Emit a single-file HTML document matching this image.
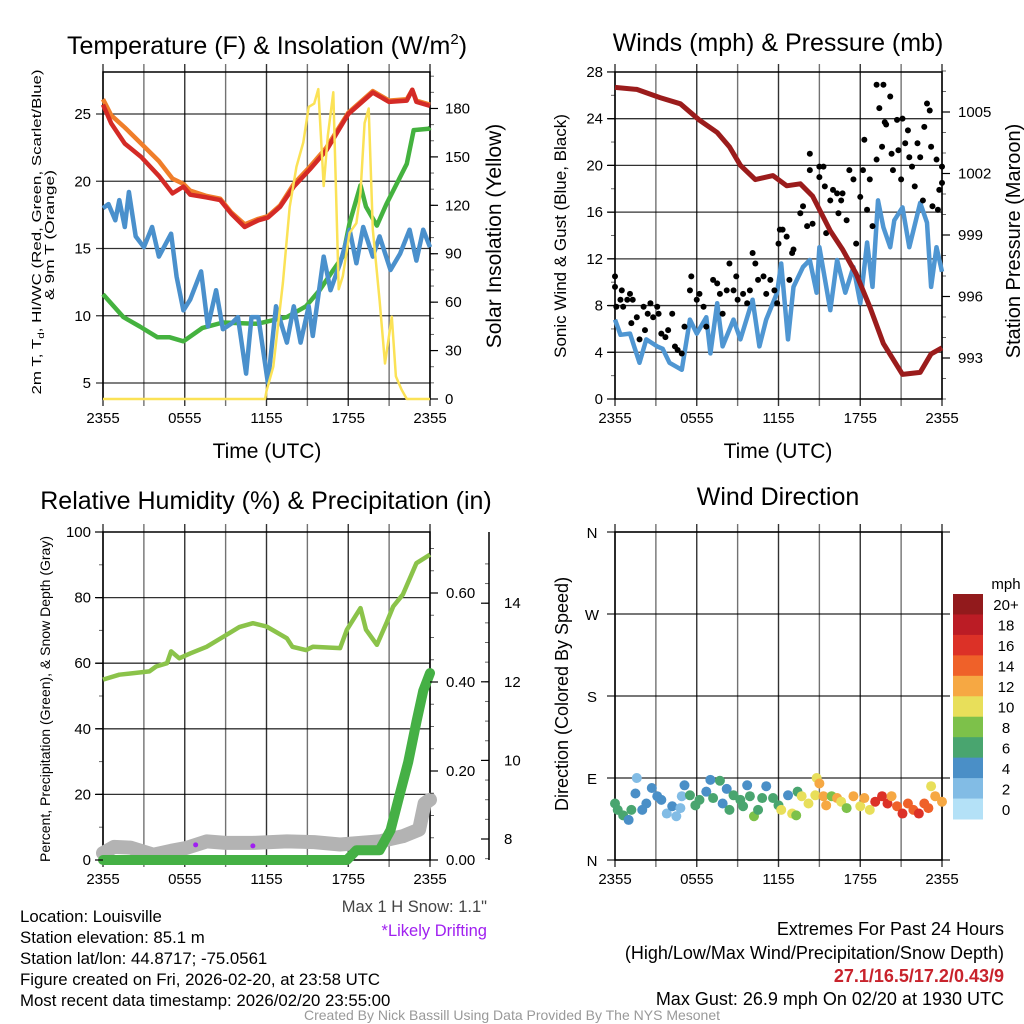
<!DOCTYPE html>
<html><head><meta charset="utf-8">
<style>
html,body{margin:0;padding:0;background:#fff;}
svg{display:block;font-family:"Liberation Sans",Arial,sans-serif;}
</style></head>
<body>
<svg id="chart" width="1024" height="1024" viewBox="0 0 1024 1024" xmlns="http://www.w3.org/2000/svg">
<rect width="1024" height="1024" fill="#fff"/>
<g id="grids"></g>
<g id="marks"></g>
<g id="axes"></g>
<g id="texts" font-family="Liberation Sans, Arial, sans-serif">
  <text x="267" y="54" font-size="25" text-anchor="middle">Temperature (F) &amp; Insolation (W/m<tspan font-size="15" dy="-10">2</tspan><tspan dy="10">)</tspan></text>
  <text x="778" y="51" font-size="25" text-anchor="middle">Winds (mph) &amp; Pressure (mb)</text>
  <text x="266" y="509" font-size="25" text-anchor="middle">Relative Humidity (%) &amp; Precipitation (in)</text>
  <text x="778" y="505" font-size="25" text-anchor="middle">Wind Direction</text>

  <text x="267" y="458" font-size="21" text-anchor="middle">Time (UTC)</text>
  <text x="778" y="458" font-size="21" text-anchor="middle">Time (UTC)</text>

  <text transform="translate(41,232) rotate(-90)" font-size="13" text-anchor="middle" textLength="325" lengthAdjust="spacingAndGlyphs">2m T, T<tspan font-size="9" dy="3">d</tspan><tspan dy="-3">, HI/WC (Red, Green, Scarlet/Blue)</tspan></text>
  <text transform="translate(54,235) rotate(-90)" font-size="13" text-anchor="middle" textLength="130" lengthAdjust="spacingAndGlyphs">&amp; 9m T (Orange)</text>
  <text transform="translate(501,236) rotate(-90)" font-size="21" text-anchor="middle">Solar Insolation (Yellow)</text>
  <text transform="translate(566,236) rotate(-90)" font-size="17" text-anchor="middle">Sonic Wind &amp; Gust (Blue, Black)</text>
  <text transform="translate(1020,241) rotate(-90)" font-size="20" text-anchor="middle">Station Pressure (Maroon)</text>
  <text transform="translate(50,699) rotate(-90)" font-size="14" text-anchor="middle">Percent, Precipitation (Green), &amp; Snow Depth (Gray)</text>
  <text transform="translate(568,694) rotate(-90)" font-size="18" text-anchor="middle">Direction (Colored By Speed)</text>

  <text x="487" y="912" font-size="16.5" text-anchor="end" fill="#444">Max 1 H Snow: 1.1"</text>
  <text x="487" y="936" font-size="16.5" text-anchor="end" fill="#a020f0">*Likely Drifting</text>

  <g font-size="16.8">
    <text x="20" y="922">Location: Louisville</text>
    <text x="20" y="943">Station elevation: 85.1 m</text>
    <text x="20" y="964">Station lat/lon: 44.8717; -75.0561</text>
    <text x="20" y="985">Figure created on Fri, 2026-02-20, at 23:58 UTC</text>
    <text x="20" y="1006">Most recent data timestamp: 2026/02/20 23:55:00</text>
  </g>
  <g font-size="18" text-anchor="end">
    <text x="1004" y="935">Extremes For Past 24 Hours</text>
    <text x="1004" y="959">(High/Low/Max Wind/Precipitation/Snow Depth)</text>
    <text x="1004" y="982" fill="#c8232c" font-weight="bold">27.1/16.5/17.2/0.43/9</text>
    <text x="1004" y="1005">Max Gust: 26.9 mph On 02/20 at 1930 UTC</text>
  </g>
  <text x="512" y="1020" font-size="14" text-anchor="middle" fill="#999">Created By Nick Bassill Using Data Provided By The NYS Mesonet</text>
</g>
</svg>
<script>
// ---------- DATA ----------
const xTickLabels = ["2355","0555","1155","1755","2355"];
// Panel 1
const tempT = [0,0.6,1.6,2.8,4.1,5.1,5.9,6.4,7.6,8.6,9.4,10.4,11.4,12.1,13,14,15.2,16.4,18,19.8,21,22.3,22.7,23,24];
const temp2m = [25.7,24.3,22.8,21.8,20.4,19.1,19.6,19.0,18.8,18.6,17.6,16.6,17.1,17.3,18.1,19.6,20.9,22.3,25,26.6,25.9,26,26.8,25.9,25.6];
const temp9m = [26.1,24.9,24.0,22.8,21.5,20.2,19.8,19.3,18.9,18.7,17.7,16.8,17.2,17.4,18.2,19.8,21.1,22.5,25.1,26.7,26.0,26.1,26.8,26.0,25.7];
const dewT = [0,1.5,2.7,4,4.9,5.9,7.3,8.8,11.3,13.5,14.9,15.9,16.9,17.6,18.1,18.9,19.3,20.1,20.8,21.6,22.3,22.8,23.9,24];
const dewVals = [11.6,9.9,9.2,8.4,8.4,8.1,9.1,9.5,9.4,9.9,10.7,11.9,13.4,14.4,16.9,19.7,18.1,16.7,18.3,19.9,21.3,23.8,23.9,24];
const chillT = [0,0.4,0.9,1.2,1.6,1.9,2.4,3.0,3.6,4.1,5.0,5.4,5.9,6.4,7.2,7.7,8.3,8.8,9.4,9.9,10.5,10.9,11.4,12.1,12.7,13.5,14,14.5,15.1,15.4,16.2,16.7,17.4,18.1,18.6,19.1,19.8,20.3,21.1,21.8,22.5,23,23.5,24];
const chillVals = [18,18.3,17.1,18.6,16.6,19.2,15.9,15.1,16.6,14.4,16.1,12.9,10.4,11.2,13.3,9.2,11.9,9,9.4,9.9,5.7,9.9,9.9,5,10.7,8,10.7,8,10.7,8.5,14.4,11.9,13.9,16.4,13.9,16.6,14.4,15.9,13.4,14.6,16.4,14.1,16.4,15.1];
const solarT = [0,11.9,12,12.5,13.2,13.7,14.2,14.7,15.1,15.5,15.8,16.2,16.5,16.9,17.3,17.6,18.1,18.6,18.9,19.2,19.5,19.8,20.3,20.7,21.2,21.5,21.9,22.3,24];
const solarVals = [0,0,5,20,72,119,144,159,181,183,192,132,163,190,68,76,103,109,128,171,180,105,61,22,51,14,6,0,0];
// Panel 2
const presT = [0,1.6,3.3,4.8,6.2,7.5,8.4,9.2,10.3,11.6,12.6,13.6,14.5,15.8,16.7,17.7,18.7,19.7,21.1,22.4,23.2,24];
const presVals = [1006.2,1006.1,1005.7,1005.4,1004.6,1004.0,1003.3,1002.4,1001.7,1001.9,1001.4,1001.5,1000.9,999.2,998.3,997.1,995.5,993.7,992.2,992.3,993.2,993.5];
const windT = [0,0.4,1.1,1.8,2.3,3.1,3.5,4.0,4.9,5.5,6.0,6.7,7.0,7.5,7.9,8.7,9.2,10.1,10.6,11.1,11.9,12.2,12.7,13.1,13.8,14.3,14.8,15.0,15.8,16.3,16.9,17.5,18.0,18.5,18.9,19.3,19.7,20.2,20.5,21.1,21.6,22.4,22.9,23.2,23.6,24];
const windVals = [6.8,5.5,5.6,3.1,5.1,4.5,4.3,3.1,2.5,6.8,5.6,7.0,3.9,8.2,4.5,6.8,5.1,8.5,4.5,6.8,9.1,11.6,5.1,9.6,11.3,11.9,9.1,13.0,7.6,11.9,9.1,11.3,8.2,13.4,9.6,17.0,14.7,13.0,15.3,16.4,13.0,16.8,15.1,9.6,13.0,10.9];
const gustT = [0,0,0.1,0.4,0.5,0.6,0.9,1.1,1.3,1.2,1.6,1.8,2.1,2.2,2.4,2.6,2.8,3.1,3.2,3.4,3.7,3.9,4.2,4.4,4.6,4.9,5.1,5.5,5.6,6.0,6.2,6.5,6.7,7.2,7.5,7.7,7.9,8.2,8.4,8.7,8.9,9.0,9.4,9.7,9.9,10.1,10.3,10.5,10.9,11.1,11.4,11.7,11.9,12.0,12.1,12.3,12.6,12.8,13.0,13.1,13.6,13.8,14.1,14.3,14.3,14.5,15.0,15.0,15.3,15.4,15.5,15.8,16.0,16.3,16.4,16.6,16.7,17.0,17.2,17.5,17.7,18.0,18.2,18.3,18.5,18.7,18.9,19.2,19.2,19.4,19.6,19.7,19.8,19.9,20.2,20.3,20.4,20.7,20.8,21.0,21.1,21.3,21.5,21.6,21.8,22.0,22.2,22.4,22.6,22.7,22.9,23.1,23.2,23.3,23.6,23.7,23.8,24.0,24.0];
const gustVals = [9.6,10.5,7.9,8.5,9.3,7.9,8.5,9.0,8.5,6.5,7.0,5.1,7.9,5.9,7.3,8.2,7.0,7.9,7.3,5.6,5.3,5.9,7.3,4.5,4.2,3.9,6.2,9.3,10.5,8.5,9.0,7.9,6.2,10.2,9.9,9.0,7.3,9.3,11.6,9.3,10.5,8.5,9.0,8.2,9.3,12.5,11.6,10.2,10.5,9.0,10.2,9.3,8.2,13.3,14.5,14.5,13.9,10.2,12.5,12.8,15.9,16.5,14.8,21.0,19.6,15.0,19.0,19.9,19.9,18.2,14.2,17.0,17.9,17.6,15.9,17.0,17.6,15.3,19.6,18.8,13.3,17.3,19.6,22.2,16.2,18.8,14.8,20.5,26.9,24.9,21.6,26.9,23.7,23.5,25.9,21.0,19.6,23.9,21.3,18.8,24.0,21.9,23.0,20.7,19.9,18.2,21.9,20.7,17.0,23.3,25.3,24.7,21.6,16.5,20.5,16.2,17.9,18.5,19.9];
// Panel 3
const rhT = [0,1.2,3.4,3.9,4.7,5.0,5.6,6.4,7.6,8.8,10.0,11.0,12.0,13.5,13.9,14.9,15.4,17.4,17.9,18.9,19.3,20.1,20.8,21.3,22.0,23.0,24];
const rhVals = [55,56.5,57.5,59,60,63.6,61.5,63,65,68,71,72.2,71.2,67.6,65,64,65,64.6,70.2,76.8,70.2,65.6,72.2,77.3,80.9,90.5,93.1];
const precipT = [0,17.9,18.6,20.3,21.1,21.8,22.4,23.0,23.5,24];
const precipVals = [0,0,0.022,0.022,0.067,0.15,0.22,0.31,0.38,0.42];
const snowT = [0,0.8,2.0,3.7,5.0,6.1,7.6,9.0,11.0,13.5,15.5,17.4,20.3,22.0,23.2,23.6,24];
const snowVals = [7.64,7.8,7.78,7.6,7.7,7.77,7.94,7.9,7.9,7.94,7.92,7.86,7.94,8.07,8.24,8.9,9.0];
const driftT = [6.8,11.0];
const driftVals = [4.6,4.3];
// Panel 4
const dirT = [0,0.2,0.6,1.0,1.2,1.5,1.6,2.0,2.3,2.7,3.1,3.4,3.8,4.2,4.5,4.8,4.9,5.1,5.5,5.9,6.2,6.7,7.0,7.2,7.7,7.9,8.2,8.4,8.7,9.2,9.4,9.7,9.9,10.2,10.5,10.8,11.1,11.6,12.0,12.2,12.7,13.0,13.3,13.4,13.7,14.2,14.7,14.8,15.0,15.3,15.5,15.9,16.3,16.6,17.0,17.5,18.0,18.3,18.7,19.1,19.6,20.0,20.3,20.7,21.1,21.5,21.9,22.3,22.7,23.0,23.2,23.5,24.0];
const dirVals = [62,55,49,44,55,73,90,55,62,79,70,66,51,59,48,57,70,82,71,60,66,75,88,68,87,62,78,55,71,66,59,82,70,48,55,68,81,68,60,55,71,51,49,75,70,62,71,90,84,70,60,70,68,64,57,70,59,68,55,64,70,62,70,59,51,62,55,51,62,57,81,70,64];
const dirSpeed = [6.5,6.5,6.5,4.5,6.5,4.5,2.5,4.5,4.5,4.5,4.5,4.5,2.5,4.5,2.5,2.5,2.5,4.5,6.5,6.5,6.5,4.5,4.5,6.5,6.5,4.5,4.5,6.5,6.5,6.5,6.5,4.5,6.5,8.5,6.5,6.5,4.5,6.5,6.5,10.5,4.5,10.5,8.5,6.5,10.5,10.5,10.5,10.5,12.5,12.5,12.5,8.5,12.5,10.5,8.5,12.5,10.5,12.5,10.5,16.5,16.5,16.5,12.5,14.5,16.5,14.5,14.5,16.5,14.5,14.5,10.5,12.5,12.5];
const cbLabels = ["20+","18","16","14","12","10","8","6","4","2","0"];
const cbColors = ["#921a1c","#bb1c25","#dc3127","#ef6129","#f6a843","#e8df5a","#7dc14a","#49a56f","#4a8fc7","#82bce5","#b4e1f7"];

// ---------- HELPERS ----------
const NS = "http://www.w3.org/2000/svg";
const G = document.getElementById('grids'), M = document.getElementById('marks'), A = document.getElementById('axes');
function mk(tag, parent, attrs){ const e=document.createElementNS(NS,tag); for(const k in attrs) e.setAttribute(k,attrs[k]); parent.appendChild(e); return e; }
function txt(parent, x, y, s, size, anchor){ const e=mk('text',parent,{x:x,y:y,'font-size':size,'text-anchor':anchor||'middle'}); e.textContent=s; return e; }

const P1={l:103,r:430,t:72,b:399}, P2={l:615,r:942,t:72,b:399}, P3={l:103,r:430,t:532,b:860}, P4={l:615,r:942,t:532,b:860};
function xs(P){ return t => P.l + (P.r-P.l)*t/24; }
const x1=xs(P1), x2=xs(P2), x3=xs(P3), x4=xs(P4);
const yTemp = v => 383 - (v-5)*13.45;
const ySolar = v => 399 - v*1.614;
const yWind = v => 399 - v*11.68;
const yPres = v => 358 - (v-993)*20.5;
const yRH = v => 860 - v*3.28;
const yPrecip = v => 860 - v*445;
const ySnow = v => 839 - (v-8)*39.3;
const yDir = v => 860 - v*328/360;

function pathOf(T,V,fx,fy){ return T.map((t,i)=>(i?'L':'M')+fx(t).toFixed(1)+','+fy(V[i]).toFixed(1)).join(''); }

function frame(P, name, hLines){
  const g=mk('g',G,{});
  
  
  for(let i=0;i<=8;i++){ const x=P.l+(P.r-P.l)*i/8; mk('line',g,{x1:x,x2:x,y1:P.t-8,y2:P.b+7,stroke:'#000','stroke-width':1.4,opacity:i%2?0.55:0.8}); }
  hLines.forEach(y=>mk('line',g,{x1:P.l-7,x2:P.r,y1:y,y2:y,stroke:'#000','stroke-width':1.3,opacity:0.8}));
  const b=mk('rect',G,{x:P.l,y:P.t,width:P.r-P.l,height:P.b-P.t,fill:'none',stroke:'#000','stroke-width':1.5});
  
  
  const lbl=mk('g',A,{});
  
  
  xTickLabels.forEach((s,i)=>txt(lbl,P.l+(P.r-P.l)*i/4,P.b+24,s,15));
}
function yLabels(parent, vals, fy, x, anchor, fmt, tickX, tickDir){
  vals.forEach(v=>{ const y=fy(v); txt(parent,x,y+5,fmt?fmt(v):String(v),15,anchor);
    if(tickX!==undefined) mk('line',parent,{x1:tickX,x2:tickX+tickDir*8,y1:y,y2:y,stroke:'#000','stroke-width':1.2}); });
}
function minorTicks(parent, from, to, step, fy, tickX, dir){ for(let v=from; v<=to+1e-9; v+=step) mk('line',parent,{x1:tickX,x2:tickX+dir*4,y1:fy(v),y2:fy(v),stroke:'#000','stroke-width':1,opacity:0.6}); }

// ---------- PANEL 1 ----------
frame(P1,'temp',[25,20,15,10,5].map(yTemp));
{
  const la=mk('g',A,{});  
  yLabels(la,[25,20,15,10,5],yTemp,P1.l-12,'end');
  const ra=mk('g',A,{});  
  yLabels(ra,[0,30,60,90,120,150,180],ySolar,P1.r+15,'start',null,P1.r,1);
  minorTicks(ra,10,200,10,ySolar,P1.r,1);
  const s2=mk('path',M,{d:pathOf(dewT,dewVals,x1,yTemp),fill:'none',stroke:'#44b23f','stroke-width':4.5,'stroke-linejoin':'round'});
   
  const s3=mk('path',M,{d:pathOf(chillT,chillVals,x1,yTemp),fill:'none',stroke:'#4a90cc','stroke-width':4.5,'stroke-linejoin':'round'});
   
  const s4=mk('path',M,{d:pathOf(tempT,temp9m,x1,yTemp),fill:'none',stroke:'#f07e2a','stroke-width':4.5,'stroke-linejoin':'round'});
   
  const s5=mk('path',M,{d:pathOf(tempT,temp2m,x1,yTemp),fill:'none',stroke:'#d42a26','stroke-width':4.5,'stroke-linejoin':'round'});
   
  const s1=mk('path',M,{d:pathOf(solarT,solarVals,x1,ySolar),fill:'none',stroke:'#fbe256','stroke-width':2.5,'stroke-linejoin':'round'});
   
}

// ---------- PANEL 2 ----------
frame(P2,'wind',[24,20,16,12,8,4].map(yWind));
{
  const la=mk('g',A,{});  
  yLabels(la,[0,4,8,12,16,20,24,28],yWind,P2.l-12,'end',null,P2.l,-1);
  minorTicks(la,2,26,4,yWind,P2.l,-1);
  const ra=mk('g',A,{});  
  yLabels(ra,[993,996,999,1002,1005],yPres,P2.r+16,'start',null,P2.r,1);
  minorTicks(ra,991,1007,1,yPres,P2.r,1);
  const w=mk('path',M,{d:pathOf(windT,windVals,x2,yWind),fill:'none',stroke:'#4f96d2','stroke-width':4.5,'stroke-linejoin':'round'});
   
  const gg=mk('g',M,{});  
  gustT.forEach((t,i)=>{ const c=mk('circle',gg,{cx:x2(t),cy:yWind(gustVals[i]),r:3,fill:'#000'});
     });
  const p=mk('path',M,{d:pathOf(presT,presVals,x2,yPres),fill:'none',stroke:'#9b1c1c','stroke-width':5,'stroke-linejoin':'round'});
   
}

// ---------- PANEL 3 ----------
frame(P3,'rh',[80,60,40,20].map(yRH));
{
  const la=mk('g',A,{});  
  yLabels(la,[0,20,40,60,80,100],yRH,P3.l-12,'end',null,P3.l,-1);
  minorTicks(la,10,90,20,yRH,P3.l,-1);
  const ra=mk('g',A,{});  
  yLabels(ra,[0,0.2,0.4,0.6],yPrecip,P3.r+16,'start',v=>v.toFixed(2),P3.r,1);
  minorTicks(ra,0.05,0.7,0.05,yPrecip,P3.r,1);
  const sa=mk('g',A,{});  
  mk('line',sa,{x1:489,x2:489,y1:532,y2:860,stroke:'#000','stroke-width':1.5});
  yLabels(sa,[8,10,12,14],ySnow,504,'start',null,489,-1);
  minorTicks(sa,7.5,15,0.5,ySnow,489,-1);
  const sn=mk('path',M,{d:pathOf(snowT,snowVals,x3,ySnow),fill:'none',stroke:'#b3b3b3','stroke-width':14,'stroke-linejoin':'round','stroke-linecap':'round'});
   
  const rh=mk('path',M,{d:pathOf(rhT,rhVals,x3,yRH),fill:'none',stroke:'#8bc34a','stroke-width':4.5,'stroke-linejoin':'round'});
   
  const pr=mk('path',M,{d:pathOf(precipT,precipVals,x3,yPrecip),fill:'none',stroke:'#45b045','stroke-width':10,'stroke-linejoin':'round','stroke-linecap':'round'});
   
  driftT.forEach((t,i)=>{ const c=mk('circle',M,{cx:x3(t),cy:yRH(driftVals[i]),r:2.5,fill:'#a020f0'});
    
     });
}

// ---------- PANEL 4 ----------
frame(P4,'direction',[]);
{
  const gl=mk('g',G,{});  
  const la=mk('g',A,{});  
  [[0,'N'],[90,'E'],[180,'S'],[270,'W'],[360,'N']].forEach(([d,s])=>{ const y=yDir(d);
    mk('line',gl,{x1:P4.l-8,x2:P4.r+8,y1:y,y2:y,stroke:'#000','stroke-width':1.3,opacity:0.85});
    txt(la,P4.l-23,y+6,s,15,'middle'); });
  const dg=mk('g',M,{});  
  function col(s){ const idx=Math.min(10,Math.floor(s/2)); return cbColors[10-idx]; }
  dirT.forEach((t,i)=>{ const c=mk('circle',dg,{cx:x4(t),cy:yDir(dirVals[i]),r:5,fill:col(dirSpeed[i])});
     });
  const cb=mk('g',A,{});  
  const top=594, h=(819-594)/11;
  txt(cb,1006,589,'mph',15,'middle');
  cbColors.forEach((c,i)=>{ mk('rect',cb,{x:953,y:top+i*h,width:30,height:h+0.5,fill:c});
    txt(cb,1006,top+i*h+h/2+6,cbLabels[i],15,'middle'); });
}
</script>
</body></html>
